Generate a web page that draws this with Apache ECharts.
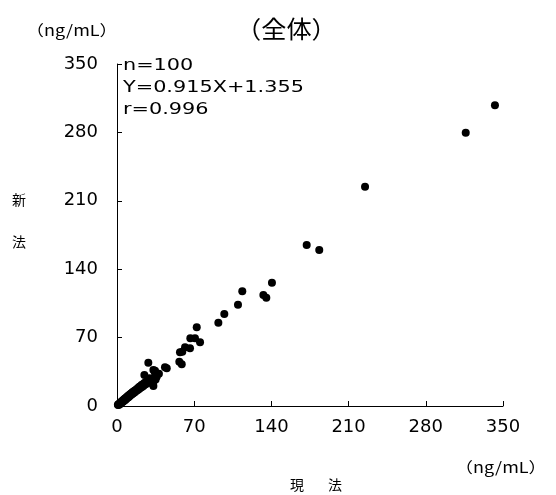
<!DOCTYPE html>
<html>
<head>
<meta charset="utf-8">
<script src="https://cdn.jsdelivr.net/npm/echarts@6/dist/echarts.min.js"></script>
<style>
  html, body { margin: 0; padding: 0; background: #fff; }
  #chart { width: 556px; height: 495px; }
</style>
</head>
<body>
<div id="chart"></div>
<script>
// Axis ticks (ng/mL)
const axisMin = 0;
const axisMax = 350;
const axisStep = 70;

// Current method (x) vs new method (y), ng/mL
const currentMethod = [
  0.8, 1.2, 1.5, 2.0, 2.3, 2.8, 3.1, 3.5, 3.9, 4.2,
  4.6, 5.0, 5.3, 5.8, 6.1, 6.5, 6.9, 7.3, 7.7, 8.0,
  8.4, 8.8, 9.2, 9.6, 10.0, 10.4, 10.9, 11.3, 11.7, 12.2,
  12.6, 13.1, 13.5, 14.0, 14.4, 14.9, 15.4, 15.9, 16.3, 16.8,
  17.3, 17.8, 18.3, 18.9, 19.4, 20.0, 20.5, 21.1, 21.7, 22.3,
  22.9, 23.5, 24.1, 24.8, 25.4, 26.1, 26.8, 27.5, 28.2, 29.0,
  29.8, 30.5, 31.2, 27.0, 35.0,
  342.7, 316.2, 224.9, 172.0, 183.4, 140.5, 113.6, 132.7, 135.4, 109.7,
  97.3, 91.9, 72.3, 66.5, 70.7, 75.3, 66.2, 61.7, 59.2, 57.1,
  56.5, 58.7, 28.4, 24.8, 33.0, 34.5, 43.5, 45.1, 31.5, 33.0,
  34.5, 33.0, 29.5, 36.0, 38.0
];
const newMethod = [
  1.2, 0.9, 1.8, 2.2, 1.6, 3.0, 2.5, 3.9, 3.2, 4.6,
  3.8, 5.3, 4.4, 6.1, 5.2, 7.0, 5.9, 7.6, 6.5, 8.3,
  7.4, 9.0, 8.1, 9.9, 8.8, 10.6, 9.5, 11.6, 10.4, 12.3,
  11.2, 13.0, 12.0, 14.1, 12.8, 14.6, 13.5, 15.6, 14.4, 16.2,
  15.3, 17.2, 16.0, 18.1, 16.9, 19.5, 17.8, 20.2, 18.9, 21.4,
  19.8, 22.3, 20.8, 23.5, 22.0, 24.3, 23.1, 25.2, 24.0, 26.4,
  25.1, 27.0, 24.6, 23.0, 27.0,
  307.7, 279.7, 224.4, 164.8, 159.7, 126.2, 117.4, 113.6, 110.8, 103.7,
  94.2, 85.3, 80.6, 69.3, 69.3, 65.2, 59.1, 60.1, 55.6, 55.0,
  45.3, 42.7, 44.3, 31.7, 36.8, 36.1, 39.6, 38.6, 26.6, 20.5,
  33.4, 24.9, 28.5, 30.0, 33.0
];

const statLines = ['n=100', 'Y=0.915X+1.355', 'r=0.996'];

const points = currentMethod.map((x, i) => [x, newMethod[i]]);

const CJK = '"Noto Sans CJK JP", sans-serif';
const LATIN = '"DejaVu Sans", "Noto Sans CJK JP", sans-serif';

const chart = echarts.init(document.getElementById('chart'), null, { renderer: 'canvas' });

// wide, thin lettering for the notes around the plot
function note(text, x, y, size, sx, family) {
  return {
    type: 'text', x: x, y: y, scaleX: sx,
    style: { text: text, font: size + 'px ' + family, fill: '#000',
             textVerticalAlign: 'top', lineHeight: 22 }
  };
}

chart.setOption({
  backgroundColor: '#ffffff',
  animation: false,
  textStyle: { fontFamily: CJK, color: '#000' },
  grid: { left: 117, right: 53, top: 64, bottom: 89 },
  graphic: [
    note('（全体）', 236, 18, 24, 1.05, CJK),
    note('（ng/mL）', 26, 19, 15, 1.2, CJK),
    note(statLines.join('\n'), 123, 55, 16, 1.3, LATIN),
    note('（ng/mL）', 455, 456, 15, 1.2, CJK),
    note('現', 290, 474, 14, 1, CJK),
    note('法', 328, 474, 14, 1, CJK),
    note('新', 12, 189, 14, 1, CJK),
    note('法', 12, 231, 14, 1, CJK)
  ],
  xAxis: {
    type: 'value', min: axisMin, max: axisMax, interval: axisStep,
    splitLine: { show: false },
    axisLine: { show: true, onZero: false, lineStyle: { color: '#000', width: 1 } },
    axisTick: { show: true, inside: true, length: 5, lineStyle: { color: '#000' } },
    axisLabel: { margin: 12, fontSize: 18, color: '#000', fontFamily: LATIN }
  },
  yAxis: {
    type: 'value', min: axisMin, max: axisMax, interval: axisStep,
    splitLine: { show: false },
    axisLine: { show: true, onZero: false, lineStyle: { color: '#000', width: 1 } },
    axisTick: { show: true, inside: true, length: 5, lineStyle: { color: '#000' } },
    axisLabel: { margin: 19, fontSize: 18, color: '#000', fontFamily: LATIN }
  },
  series: [{
    type: 'scatter',
    data: points,
    symbol: 'circle',
    symbolSize: 8,
    itemStyle: { color: '#000', opacity: 1 },
    clip: false
  }]
});
</script>
</body>
</html>
